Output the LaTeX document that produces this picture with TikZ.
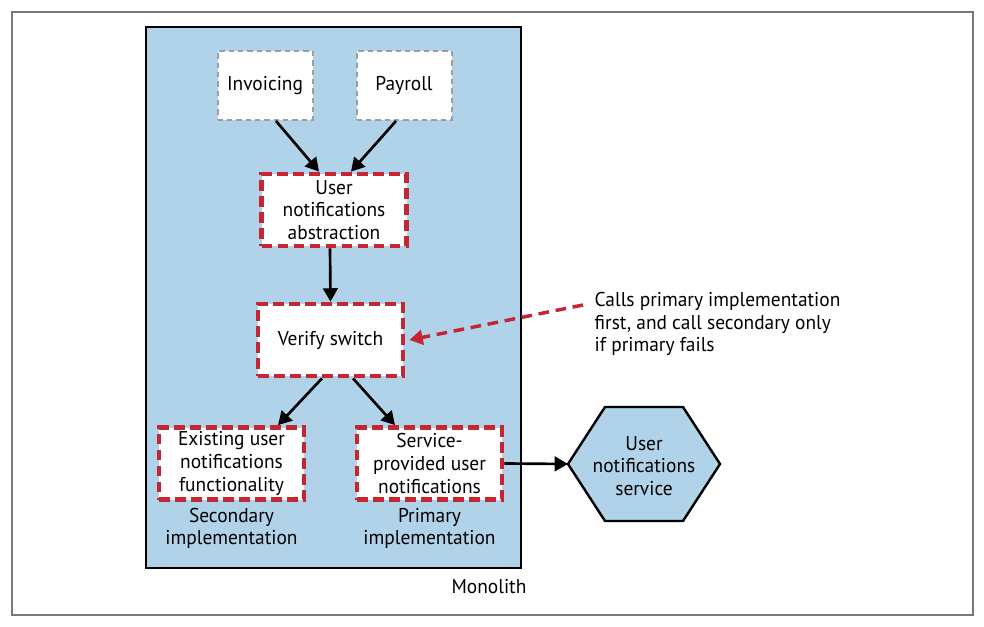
\documentclass[tikz,border=0pt]{standalone}
\usepackage{fontspec}
\setmainfont{PT Sans}[FakeStretch=0.97]
\usepackage{tikz}
\usetikzlibrary{arrows.meta}
\definecolor{monoblue}{RGB}{176,211,233}
\definecolor{switchred}{RGB}{196,38,50}
\definecolor{framegray}{RGB}{120,120,120}
\definecolor{callergray}{RGB}{158,158,158}

\begin{document}
\begin{tikzpicture}[x=0.75pt,y=0.75pt,yscale=-1,xscale=1,
  every node/.style={font=\fontsize{15}{17}\selectfont, text=black},
  caller/.style={draw=callergray, fill=white, line width=1.5pt, dash pattern=on 4pt off 3pt,
    inner sep=0pt, minimum width=71.25pt, minimum height=51.75pt, align=center},
  swbox/.style={draw=switchred, fill=white, line width=3.6pt, dash pattern=on 8pt off 4pt,
    inner sep=0pt, minimum width=108.75pt, minimum height=54pt, align=center},
  flow/.style={-{Triangle[length=10pt,width=11pt]}, line width=2pt},
  noteflow/.style={-{Triangle[length=10pt,width=11pt]}, draw=switchred, line width=2.6pt,
    dash pattern=on 8pt off 5pt}]
\useasboundingbox (0,0) rectangle (984,627);

%Shape: Frame
\draw [draw=framegray, line width=1.1pt] (12,12) rectangle (973,615);
%Shape: Monolith
\draw [fill=monoblue, line width=2pt] (146,27) rectangle (521,568);

%Shape: Hexagon
\draw [fill=monoblue, line width=1.8pt] (568,464) -- (605,407) -- (683,407) -- (720,464) -- (683,521) -- (605,521) -- cycle ;
\coordinate (hexW) at (568,464);

% Boxes
\node (inv) at (265,85.5) [caller] {Invoicing};
\node (pay) at (404,85.5) [caller] {Payroll};
\node (abs) at (334,210) [swbox] {User\\notifications\\abstraction};
\node (vsw) at (330.5,340) [swbox] {Verify switch};
\node (exist) at (231.5,463.5) [swbox] {Existing user\\notifications\\functionality};
\node (svc) at (429.5,463.5) [swbox] {Service-\\provided user\\notifications};

% Text Node
\node (usvc) at (644,466) [align=center] {User\\notifications\\service};
% Text Node
\node (secl) at (231.5,528.5) [align=center] {Secondary\\implementation};
% Text Node
\node (priml) at (429.5,528.5) [align=center] {Primary\\implementation};
% Text Node
\node (monol) at (489,587) {Monolith};
% Text Node
\node (note) at (590,324) [anchor=west, align=left] {Calls primary implementation\\first, and call secondary only\\if primary fails};
\coordinate (noteTail) at (583,305);

% Arrows
\draw [flow] ([xshift=8.25pt]inv.south) -- ([xshift=-11.25pt]abs.north);
\draw [flow] ([xshift=-6pt]pay.south) -- ([xshift=12.75pt]abs.north);
\draw [flow] ([xshift=-3pt]abs.south) -- (vsw.north);
\draw [flow] ([xshift=-6.4pt]vsw.south) -- ([xshift=34.9pt]exist.north);
\draw [flow] ([xshift=16.9pt]vsw.south) -- ([xshift=-25.9pt]svc.north);
\draw [flow] (svc.east) -- (hexW);
\draw [noteflow] (noteTail) -- ([xshift=3pt]vsw.east);

\end{tikzpicture}
\end{document}
